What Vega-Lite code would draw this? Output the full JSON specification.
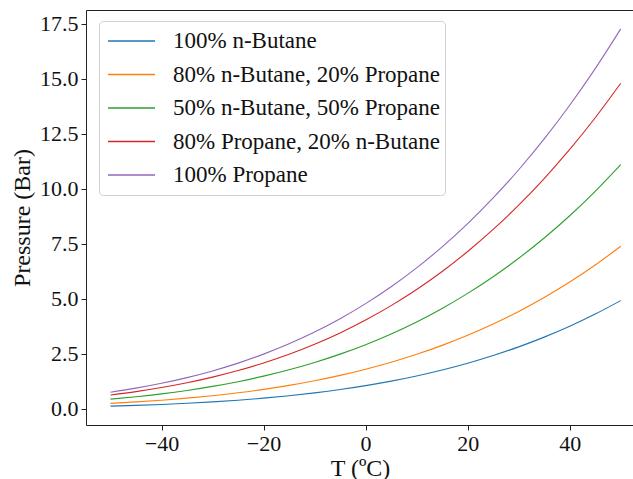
{
  "$schema": "https://vega.github.io/schema/vega-lite/v6.json",
  "width": 548,
  "height": 415,
  "autosize": {"type": "none"},
  "padding": {"left": 86, "top": 10, "right": 0, "bottom": 54},
  "background": "white",
  "config": {
    "font": "Liberation Serif",
    "view": {"stroke": "#222", "strokeWidth": 1},
    "axis": {
      "grid": false,
      "domain": false,
      "tickColor": "#222",
      "tickSize": 5,
      "tickWidth": 1,
      "labelFontSize": 22,
      "labelColor": "#111",
      "labelFont": "Liberation Serif",
      "titleFont": "Liberation Serif",
      "titleFontWeight": "normal",
      "titleFontSize": 24,
      "titleColor": "#111"
    }
  },
  "data": {
    "values": [
      {"T": -50, "s": "100% n-Butane", "P": 0.110},
      {"T": -45, "s": "100% n-Butane", "P": 0.144},
      {"T": -40, "s": "100% n-Butane", "P": 0.186},
      {"T": -35, "s": "100% n-Butane", "P": 0.238},
      {"T": -30, "s": "100% n-Butane", "P": 0.302},
      {"T": -25, "s": "100% n-Butane", "P": 0.378},
      {"T": -20, "s": "100% n-Butane", "P": 0.471},
      {"T": -15, "s": "100% n-Butane", "P": 0.580},
      {"T": -10, "s": "100% n-Butane", "P": 0.710},
      {"T": -5, "s": "100% n-Butane", "P": 0.862},
      {"T": 0, "s": "100% n-Butane", "P": 1.040},
      {"T": 5, "s": "100% n-Butane", "P": 1.245},
      {"T": 10, "s": "100% n-Butane", "P": 1.482},
      {"T": 15, "s": "100% n-Butane", "P": 1.752},
      {"T": 20, "s": "100% n-Butane", "P": 2.061},
      {"T": 25, "s": "100% n-Butane", "P": 2.411},
      {"T": 30, "s": "100% n-Butane", "P": 2.805},
      {"T": 35, "s": "100% n-Butane", "P": 3.248},
      {"T": 40, "s": "100% n-Butane", "P": 3.743},
      {"T": 45, "s": "100% n-Butane", "P": 4.296},
      {"T": 50, "s": "100% n-Butane", "P": 4.910},

      {"T": -50, "s": "80% n-Butane, 20% Propane", "P": 0.236},
      {"T": -45, "s": "80% n-Butane, 20% Propane", "P": 0.300},
      {"T": -40, "s": "80% n-Butane, 20% Propane", "P": 0.378},
      {"T": -35, "s": "80% n-Butane, 20% Propane", "P": 0.472},
      {"T": -30, "s": "80% n-Butane, 20% Propane", "P": 0.584},
      {"T": -25, "s": "80% n-Butane, 20% Propane", "P": 0.715},
      {"T": -20, "s": "80% n-Butane, 20% Propane", "P": 0.871},
      {"T": -15, "s": "80% n-Butane, 20% Propane", "P": 1.053},
      {"T": -10, "s": "80% n-Butane, 20% Propane", "P": 1.264},
      {"T": -5, "s": "80% n-Butane, 20% Propane", "P": 1.507},
      {"T": 0, "s": "80% n-Butane, 20% Propane", "P": 1.786},
      {"T": 5, "s": "80% n-Butane, 20% Propane", "P": 2.104},
      {"T": 10, "s": "80% n-Butane, 20% Propane", "P": 2.465},
      {"T": 15, "s": "80% n-Butane, 20% Propane", "P": 2.872},
      {"T": 20, "s": "80% n-Butane, 20% Propane", "P": 3.331},
      {"T": 25, "s": "80% n-Butane, 20% Propane", "P": 3.845},
      {"T": 30, "s": "80% n-Butane, 20% Propane", "P": 4.417},
      {"T": 35, "s": "80% n-Butane, 20% Propane", "P": 5.052},
      {"T": 40, "s": "80% n-Butane, 20% Propane", "P": 5.754},
      {"T": 45, "s": "80% n-Butane, 20% Propane", "P": 6.529},
      {"T": 50, "s": "80% n-Butane, 20% Propane", "P": 7.382},

      {"T": -50, "s": "50% n-Butane, 50% Propane", "P": 0.426},
      {"T": -45, "s": "50% n-Butane, 50% Propane", "P": 0.535},
      {"T": -40, "s": "50% n-Butane, 50% Propane", "P": 0.666},
      {"T": -35, "s": "50% n-Butane, 50% Propane", "P": 0.822},
      {"T": -30, "s": "50% n-Butane, 50% Propane", "P": 1.006},
      {"T": -25, "s": "50% n-Butane, 50% Propane", "P": 1.221},
      {"T": -20, "s": "50% n-Butane, 50% Propane", "P": 1.472},
      {"T": -15, "s": "50% n-Butane, 50% Propane", "P": 1.762},
      {"T": -10, "s": "50% n-Butane, 50% Propane", "P": 2.094},
      {"T": -5, "s": "50% n-Butane, 50% Propane", "P": 2.474},
      {"T": 0, "s": "50% n-Butane, 50% Propane", "P": 2.905},
      {"T": 5, "s": "50% n-Butane, 50% Propane", "P": 3.392},
      {"T": 10, "s": "50% n-Butane, 50% Propane", "P": 3.940},
      {"T": 15, "s": "50% n-Butane, 50% Propane", "P": 4.553},
      {"T": 20, "s": "50% n-Butane, 50% Propane", "P": 5.237},
      {"T": 25, "s": "50% n-Butane, 50% Propane", "P": 5.995},
      {"T": 30, "s": "50% n-Butane, 50% Propane", "P": 6.834},
      {"T": 35, "s": "50% n-Butane, 50% Propane", "P": 7.757},
      {"T": 40, "s": "50% n-Butane, 50% Propane", "P": 8.770},
      {"T": 45, "s": "50% n-Butane, 50% Propane", "P": 9.879},
      {"T": 50, "s": "50% n-Butane, 50% Propane", "P": 11.090},

      {"T": -50, "s": "80% Propane, 20% n-Butane", "P": 0.615},
      {"T": -45, "s": "80% Propane, 20% n-Butane", "P": 0.770},
      {"T": -40, "s": "80% Propane, 20% n-Butane", "P": 0.954},
      {"T": -35, "s": "80% Propane, 20% n-Butane", "P": 1.172},
      {"T": -30, "s": "80% Propane, 20% n-Butane", "P": 1.428},
      {"T": -25, "s": "80% Propane, 20% n-Butane", "P": 1.727},
      {"T": -20, "s": "80% Propane, 20% n-Butane", "P": 2.073},
      {"T": -15, "s": "80% Propane, 20% n-Butane", "P": 2.470},
      {"T": -10, "s": "80% Propane, 20% n-Butane", "P": 2.925},
      {"T": -5, "s": "80% Propane, 20% n-Butane", "P": 3.441},
      {"T": 0, "s": "80% Propane, 20% n-Butane", "P": 4.025},
      {"T": 5, "s": "80% Propane, 20% n-Butane", "P": 4.680},
      {"T": 10, "s": "80% Propane, 20% n-Butane", "P": 5.416},
      {"T": 15, "s": "80% Propane, 20% n-Butane", "P": 6.234},
      {"T": 20, "s": "80% Propane, 20% n-Butane", "P": 7.143},
      {"T": 25, "s": "80% Propane, 20% n-Butane", "P": 8.146},
      {"T": 30, "s": "80% Propane, 20% n-Butane", "P": 9.251},
      {"T": 35, "s": "80% Propane, 20% n-Butane", "P": 10.462},
      {"T": 40, "s": "80% Propane, 20% n-Butane", "P": 11.785},
      {"T": 45, "s": "80% Propane, 20% n-Butane", "P": 13.229},
      {"T": 50, "s": "80% Propane, 20% n-Butane", "P": 14.798},

      {"T": -50, "s": "100% Propane", "P": 0.741},
      {"T": -45, "s": "100% Propane", "P": 0.926},
      {"T": -40, "s": "100% Propane", "P": 1.146},
      {"T": -35, "s": "100% Propane", "P": 1.406},
      {"T": -30, "s": "100% Propane", "P": 1.710},
      {"T": -25, "s": "100% Propane", "P": 2.065},
      {"T": -20, "s": "100% Propane", "P": 2.474},
      {"T": -15, "s": "100% Propane", "P": 2.943},
      {"T": -10, "s": "100% Propane", "P": 3.478},
      {"T": -5, "s": "100% Propane", "P": 4.085},
      {"T": 0, "s": "100% Propane", "P": 4.771},
      {"T": 5, "s": "100% Propane", "P": 5.539},
      {"T": 10, "s": "100% Propane", "P": 6.399},
      {"T": 15, "s": "100% Propane", "P": 7.354},
      {"T": 20, "s": "100% Propane", "P": 8.413},
      {"T": 25, "s": "100% Propane", "P": 9.580},
      {"T": 30, "s": "100% Propane", "P": 10.862},
      {"T": 35, "s": "100% Propane", "P": 12.266},
      {"T": 40, "s": "100% Propane", "P": 13.796},
      {"T": 45, "s": "100% Propane", "P": 15.462},
      {"T": 50, "s": "100% Propane", "P": 17.270}
    ]
  },
  "mark": {"type": "line", "strokeWidth": 1.1, "interpolate": "monotone", "clip": true},
  "encoding": {
    "x": {
      "field": "T",
      "type": "quantitative",
      "scale": {"domain": [-54.8, 52.6], "nice": false, "zero": false},
      "axis": {
        "title": "T (ºC)",
        "values": [-40, -20, 0, 20, 40],
        "labelPadding": 3,
        "titlePadding": 2
      }
    },
    "y": {
      "field": "P",
      "type": "quantitative",
      "scale": {"domain": [-0.75, 18.13], "nice": false, "zero": false},
      "axis": {
        "title": "Pressure (Bar)",
        "values": [0, 2.5, 5, 7.5, 10, 12.5, 15, 17.5],
        "format": ".1f",
        "labelPadding": 3,
        "titlePadding": 5
      }
    },
    "color": {
      "field": "s",
      "type": "nominal",
      "sort": ["100% n-Butane", "80% n-Butane, 20% Propane", "50% n-Butane, 50% Propane", "80% Propane, 20% n-Butane", "100% Propane"],
      "scale": {
        "domain": ["100% n-Butane", "80% n-Butane, 20% Propane", "50% n-Butane, 50% Propane", "80% Propane, 20% n-Butane", "100% Propane"],
        "range": ["#1f77b4", "#ff7f0e", "#2ca02c", "#d62728", "#9467bd"]
      },
      "legend": {
        "title": null,
        "orient": "none",
        "legendX": 13,
        "legendY": 11,
        "symbolType": "stroke",
        "symbolSize": 2209,
        "symbolStrokeWidth": 1.3,
        "symbolOffset": 3,
        "clipHeight": 30,
        "labelFontSize": 23,
        "labelFont": "Liberation Serif",
        "labelColor": "#111",
        "labelOffset": 17,
        "labelLimit": 400,
        "rowPadding": 3.5,
        "padding": 5,
        "fillColor": "rgba(255,255,255,0.8)",
        "strokeColor": "#d0d0d0",
        "cornerRadius": 4
      }
    }
  }
}
